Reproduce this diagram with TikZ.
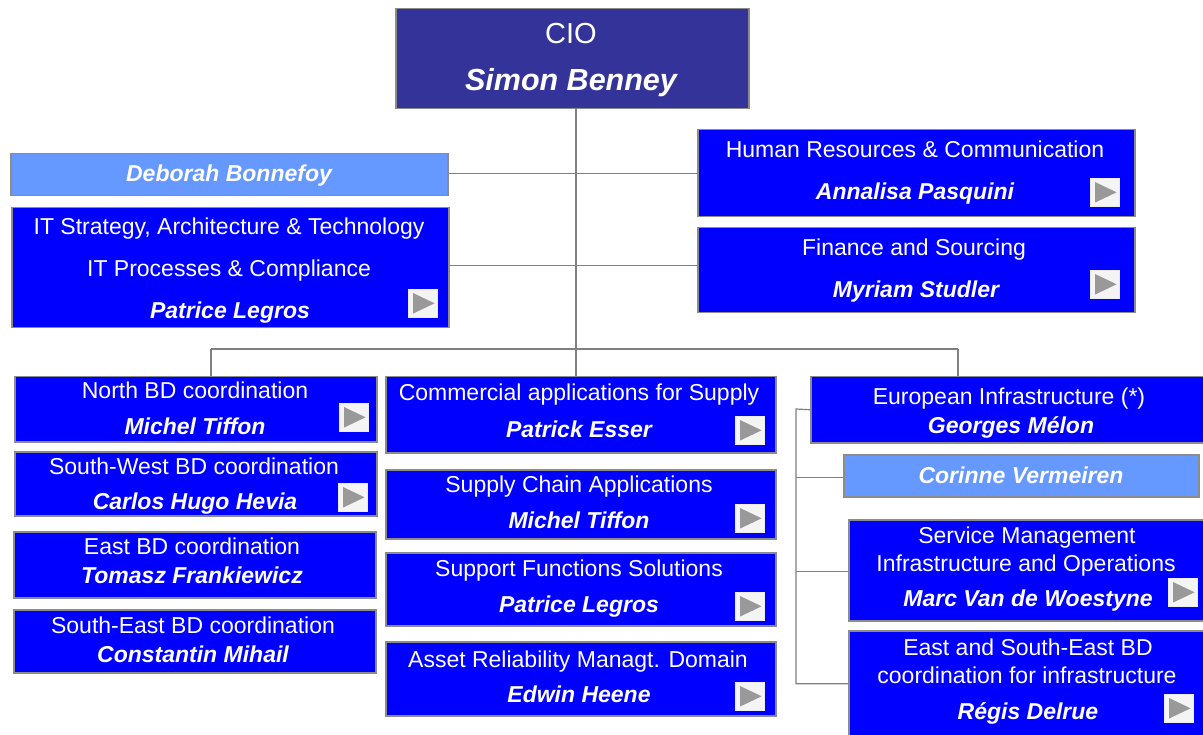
\documentclass[tikz,border=0pt]{standalone}
\usepackage{fontspec}
\setmainfont{Liberation Sans}
\definecolor{cioblue}{HTML}{333399}
\definecolor{boxblue}{HTML}{0000FF}
\definecolor{lightblue}{HTML}{6699FF}
\definecolor{bordergray}{HTML}{8C8C8C}
\definecolor{linegray}{HTML}{808080}
\definecolor{btngray}{HTML}{999999}
\definecolor{btnbg}{HTML}{F4F4F4}
\tikzset{
 box/.style={draw=bordergray, line width=1.5pt, fill=boxblue, rectangle, anchor=north west, inner sep=0pt},
 lightbox/.style={box, fill=lightblue},
 ciobox/.style={box, fill=cioblue},
 conn/.style={draw=linegray, line width=1.2pt},
 txt/.style={text=white, anchor=base, inner sep=0pt, font=\fontsize{23}{27}\selectfont},
 nm/.style={text=white, anchor=base, inner sep=0pt, font=\fontsize{23}{27}\selectfont\bfseries\itshape},
 btn/.style={fill=btnbg, draw=white!85!gray, line width=0.6pt, anchor=north west, minimum width=29pt, minimum height=28pt, inner sep=0pt},
}
\newcommand\obox[6]{\node[#2, minimum width={#5-#3}, minimum height={#6-#4}] (#1) at (#3,#4) {};}
\newcommand\obtn[3]{\node[btn] (#1) at (#2,#3) {};
 \fill[btngray] ([xshift=5pt,yshift=-4pt]#1.north west) -- ([xshift=5pt,yshift=4pt]#1.south west) -- ([xshift=-3pt]#1.east) -- cycle;}
\begin{document}
\begin{tikzpicture}[x=1pt,y=-1pt]
\useasboundingbox (0,0) rectangle (1203,735);
\clip (0,0) rectangle (1203,735);
% boxes
\obox{cio}{ciobox}{395}{8}{748}{108}
\obox{deb}{lightbox}{10}{153}{447}{195}
\obox{its}{box}{11}{207}{448}{327}
\obox{hr}{box}{697}{129}{1134}{216}
\obox{fin}{box}{697}{227}{1134}{312}
\obox{nbd}{box}{14}{376}{376}{441}
\obox{swbd}{box}{14}{451}{376}{515}
\obox{ebd}{box}{13}{531}{375}{597}
\obox{sebd}{box}{13}{609}{375}{672}
\obox{comm}{box}{385}{376}{775}{452}
\obox{sca}{box}{385}{469}{775}{538}
\obox{sfs}{box}{385}{552}{775}{625}
\obox{ard}{box}{385}{641}{775}{715}
\obox{euro}{box}{810}{376}{1215}{442}
\obox{cor}{lightbox}{843}{454}{1198}{496}
\obox{smi}{box}{848}{519}{1215}{620}
\obox{esebd}{box}{848}{630}{1215}{745}
% connectors
\coordinate (sp) at (576,108);
\coordinate (hl) at (211,349);
\coordinate (hr0) at (958,349);
\coordinate (debE) at ([yshift=1pt]deb.east);
\coordinate (itsE) at ([yshift=2pt]its.east);
\coordinate (hrW) at ([yshift=-0.5pt]hr.west);
\coordinate (finW) at ([yshift=4.5pt]fin.west);
\coordinate (corW) at ([yshift=-2pt]cor.west);
\coordinate (smiW) at ([yshift=-1.5pt]smi.west);
\coordinate (eseW) at ([yshift=4.5pt]esebd.west);
\draw[conn] (sp) -- (sp |- comm.north);
\draw[conn] (hl) -- (hr0);
\draw[conn] (hl) -- (hl |- nbd.north);
\draw[conn] (hr0) -- (hr0 |- euro.north);
\draw[conn] (debE) -- (debE -| sp);
\draw[conn] (itsE) -- (itsE -| sp);
\draw[conn] (hrW) -- (hrW -| sp);
\draw[conn] (finW) -- (finW -| sp);
\coordinate (bk) at (796,409);
\draw[conn] (euro.west) -- (bk) -- (bk |- eseW) -- (eseW);
\draw[conn] (bk |- corW) -- (corW);
\draw[conn] (bk |- smiW) -- (smiW);
% texts
\node[txt, font=\fontsize{29}{33}\selectfont] (t0a) at (571,44) {CIO};
\node[nm, font=\fontsize{30.5}{35}\selectfont\bfseries\itshape] (t0b) at (571,91) {Simon Benney};
\node[nm] (t1) at (229,182) {Deborah Bonnefoy};
\node[txt] (t2a) at (229,235) {IT Strategy, Architecture \& Technology};
\node[txt] (t2b) at (229,277) {IT Processes \& Compliance};
\node[nm] (t2c) at (230,319) {Patrice Legros};
\node[txt] (t3a) at (915,158) {Human Resources \& Communication};
\node[nm] (t3b) at (915,200) {Annalisa Pasquini};
\node[txt] (t4a) at (914,256) {Finance and Sourcing};
\node[nm] (t4b) at (916,298) {Myriam Studler};
\node[txt] (t5a) at (195,399) {North BD coordination};
\node[nm] (t5b) at (195,435) {Michel Tiffon};
\node[txt] (t6a) at (194,475) {South-West BD coordination};
\node[nm] (t6b) at (195,509) {Carlos Hugo Hevia};
\node[txt] (t7a) at (192,554) {East BD coordination};
\node[nm] (t7b) at (192,583) {Tomasz Frankiewicz};
\node[txt] (t8a) at (193,633) {South-East BD coordination};
\node[nm] (t8b) at (193,662) {Constantin Mihail};
\node[txt] (t9a) at (579,401) {Commercial applications for Supply};
\node[nm] (t9b) at (579,437) {Patrick Esser};
\node[txt] (t10a) at (579,492) {Supply Chain Applications};
\node[nm] (t10b) at (579,528) {Michel Tiffon};
\node[txt] (t11a) at (579,576) {Support Functions Solutions};
\node[nm] (t11b) at (579,612) {Patrice Legros};
\node[txt] (t12a) at (578,667) {Asset Reliability Managt. Domain};
\node[nm] (t12b) at (579,702) {Edwin Heene};
\node[txt] (t13a) at (1009,405) {European Infrastructure (*)};
\node[nm] (t13b) at (1011,433) {Georges Mélon};
\node[nm] (t14) at (1021,483) {Corinne Vermeiren};
\node[txt] (t15a) at (1027,543) {Service Management};
\node[txt] (t15b) at (1026,571) {Infrastructure and Operations};
\node[nm] (t15c) at (1028,606) {Marc Van de Woestyne};
\node[txt] (t16a) at (1028,655) {East and South-East BD};
\node[txt] (t16b) at (1027,683) {coordination for infrastructure};
\node[nm] (t16c) at (1028,719) {Régis Delrue};
% buttons
\obtn{b1}{408}{289}
\obtn{b2}{1090}{178}
\obtn{b3}{1090}{270}
\obtn{b4}{339}{403}
\obtn{b5}{338}{483}
\obtn{b6}{735}{416}
\obtn{b7}{735}{504}
\obtn{b8}{735}{592}
\obtn{b9}{735}{682}
\obtn{b10}{1168}{578}
\obtn{b11}{1164}{694}
\end{tikzpicture}
\end{document}
